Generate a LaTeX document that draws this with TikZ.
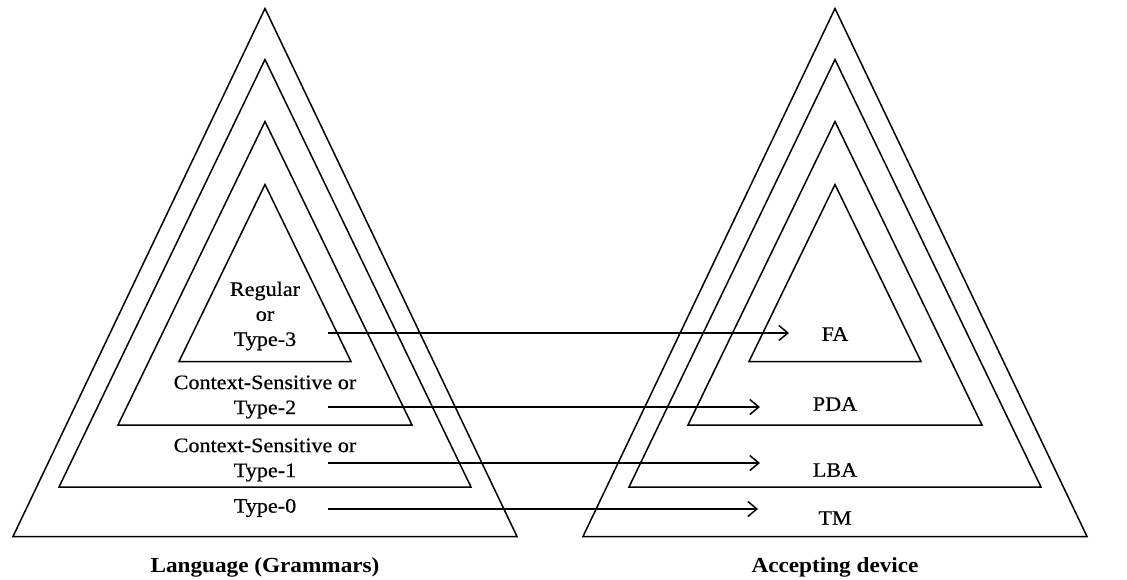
\documentclass[tikz,border=0pt]{standalone}
\usepackage{fontspec}
\setmainfont{Liberation Serif}[FakeStretch=1.08]
\usetikzlibrary{arrows.meta, positioning}

\begin{document}
\begin{tikzpicture}[x=1pt, y=-1pt,
        tri/.style={line width=1.5pt, line join=miter},
        link/.style={line width=1.5pt, -{Straight Barb[length=9pt, width=15pt, line width=1.5pt]}},
        lbl/.style={font=\fontsize{20.5}{25}\selectfont\addfontfeature{FakeBold=0.5}, align=center, inner sep=0pt},
        title/.style={font=\fontsize{21.5}{23}\selectfont\bfseries, inner sep=0pt}]
    \useasboundingbox (0, 0) rectangle (1127, 580);

    % nested triangles: apex y / base y / half width
    \foreach \cx in {265, 835}
        \foreach \ay/\by/\hw in {8.5/536.5/252, 59.5/487/206, 121.5/425/147, 184.5/361.5/86}
            \draw[tri] (\cx, \ay) -- (\cx + \hw, \by) -- (\cx - \hw, \by) -- cycle;

    % grammars
    \node[lbl] (reg) at (265, 316) {Regular\\or\\Type-3};
    \node[lbl] (cfg) at (265, 397) {Context-Sensitive or\\Type-2};
    \node[lbl] (csg) at (265, 460) {Context-Sensitive or\\Type-1};
    \node[lbl] (reu) at (265, 508) {Type-0};
    \node[title] (lang) at (265, 567) {Language (Grammars)};

    % machines
    \node[lbl] (fa) at (835, 334) {FA};
    \node[lbl] (pda) at (835, 404) {PDA};
    \node[lbl] (lba) at (835, 470) {LBA};
    \node[lbl] (tm) at (835, 518) {TM};
    \node[title] (dev) at (835, 567) {Accepting device};

    \coordinate (s3) at (328, 333);
    \coordinate (e3) at (789, 333);
    \coordinate (s2) at (328, 407);
    \coordinate (e2) at (760, 407);
    \coordinate (s1) at (328, 463);
    \coordinate (e1) at (760, 463);
    \coordinate (s0) at (328, 509);
    \coordinate (e0) at (758, 509);

    \draw[link] (s3) -- (e3);
    \draw[link] (s2) -- (e2);
    \draw[link] (s1) -- (e1);
    \draw[link] (s0) -- (e0);
\end{tikzpicture}
\end{document}
